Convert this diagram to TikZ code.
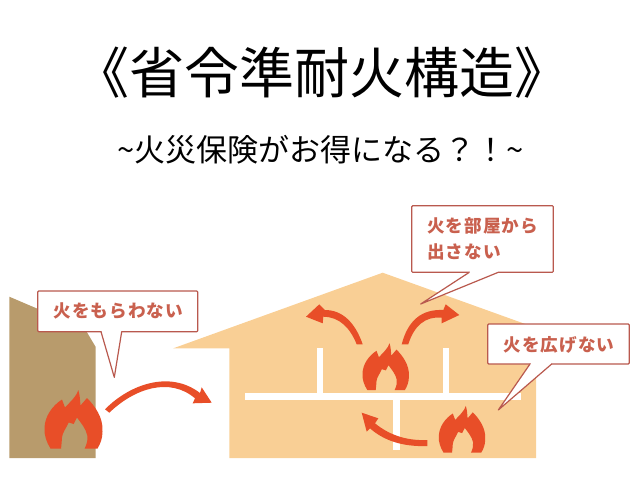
\documentclass[tikz,border=0pt]{standalone}
\usepackage{fontspec}
\setmainfont{Noto Sans CJK JP}
\newfontfamily\cjkbub[LetterSpace=6]{Noto Sans CJK JP}
\newfontfamily\cjkhead{Noto Sans CJK JP}
\definecolor{tan}{HTML}{B89B6C}
\definecolor{house}{HTML}{F9CF95}
\definecolor{flame}{HTML}{E84E28}
\definecolor{bubline}{HTML}{B9594E}
\definecolor{bubtext}{HTML}{C9604E}
\tikzset{
  bubble/.style={draw=bubline,fill=white,line width=1.2pt,rounded corners=1pt,line join=round},
  tail/.style={draw=bubline,fill=white,line width=1.2pt,line join=round},
  bubtxt/.style={text=bubtext,font=\cjkbub\bfseries\fontsize{17.6}{26}\selectfont,inner sep=0pt,align=left},
  fl/.style={fill=flame,draw=none},
  partition/.style={fill=white,draw=none},
  pics/fire/.style={code={
    \fill[fl] (-12.5,0) -- (-23,0) .. controls (-27,-6) and (-29.5,-14) .. (-29,-20)
      .. controls (-29,-32) and (-21,-43) .. (-11.5,-49)
      -- (-8.5,-41) .. controls (-4,-46) and (3,-52) .. (4.8,-58.5)
      .. controls (6.5,-53) and (6.5,-48) .. (7,-43) -- (13.5,-50.5)
      .. controls (21,-43) and (30,-31) .. (29,-17)
      .. controls (29,-10) and (27,-5) .. (24,0) -- (11.2,0)
      .. controls (13.5,-5) and (14.5,-9) .. (13.8,-13)
      .. controls (12.5,-20) and (7,-26) .. (3.5,-31)
      -- (0.2,-24.5) -- (-4.8,-26)
      .. controls (-7.5,-20) and (-11,-16) .. (-11.5,-11) .. controls (-11.8,-7) and (-12,-3) .. (-12.5,0) -- cycle;
  }}
}
\begin{document}
\begin{tikzpicture}[x=1pt,y=-1pt]
\useasboundingbox (0,0) rectangle (640,480);
\node[inner sep=0pt,font=\cjkhead\fontsize{55}{55}\selectfont] (title) at (322,73) {《省令準耐火構造》};
\node[inner sep=0pt,font=\fontsize{31}{31}\selectfont] (sub) at (320.5,150) {\char"7E 火災保険がお得になる？！\char"7E};
% neighbouring building
\fill[tan] (9.3,296.7) -- (85,329) -- (95.7,347) -- (95.7,458) -- (9.3,458) -- cycle;
% house
\fill[house] (382.7,272.7) -- (592,348) -- (536,348) -- (536,458) -- (229.3,458) -- (229.3,348.3) -- (173.3,348.3) -- cycle;
% partitions
\fill[partition] (245,393.3) rectangle (520.7,399.5);
\fill[partition] (316.7,348.3) rectangle (323.3,394);
\fill[partition] (443.3,348.3) rectangle (449.3,394);
\fill[partition] (393.3,399) rectangle (400,450);
% flames
\pic at (73.5,448.5) {fire};
\pic[scale=0.8] at (385.7,390) {fire};
\pic[scale=0.8] at (462,452.7) {fire};
% arrows
\fill[fl] (105,409.3) .. controls (130,384) and (170,370) .. (200,393) -- (201.7,387.3) -- (211.7,402.7) -- (192.7,403.3)
  -- (195,398.3) .. controls (170,377) and (135,388) .. (109.3,412.7) -- cycle;
\fill[fl] (362.7,344.3) .. controls (355,322) and (342,310) .. (325,310) -- (319.3,304.3) -- (306,316.7) -- (322.7,323.3) -- (323.3,316.7)
  .. controls (340,317) and (350,328) .. (356.7,344.3) -- cycle;
\fill[fl] (401.7,344.3) .. controls (408,320) and (422,309) .. (443.3,310) -- (445.7,304.3) -- (459.3,315) -- (441.7,323.3) -- (441.7,317.7)
  .. controls (425,316) and (414,326) .. (408.3,344.3) -- cycle;
\fill[fl] (427.3,440) .. controls (405,441) and (388,434) .. (375,423.3) -- (378.3,418.3) -- (361.7,412.7) -- (366.7,431.7) -- (370,428.3)
  .. controls (383,440) and (402,447) .. (427.3,446) -- cycle;
% callouts
\draw[bubble] (37.7,291) rectangle (197.7,331.7);
\fill[white] (101.5,330) rectangle (121.2,333);
\draw[tail] (101,331.7) -- (114.3,377.3) -- (121.7,331.7);
\node[bubtxt,anchor=center] (t1) at (118.3,310.7) {火をもらわない};
\draw[bubble] (411.7,205.7) rectangle (553.3,272.3);
\fill[white] (470,271) rectangle (497.5,273.5);
\draw[tail] (469.3,272.3) -- (420.7,304) -- (498.3,272.3);
\node[bubtxt,anchor=center,align=left] (t2) at (482.5,239) {火を部屋から\\出さない};
\draw[bubble] (487.7,324) rectangle (629.3,364);
\fill[white] (530.7,362.5) rectangle (551,365.5);
\draw[tail] (530,364) -- (498.3,410) -- (551.7,364);
\node[bubtxt,anchor=center] (t3) at (559,345) {火を広げない};
\end{tikzpicture}
\end{document}
